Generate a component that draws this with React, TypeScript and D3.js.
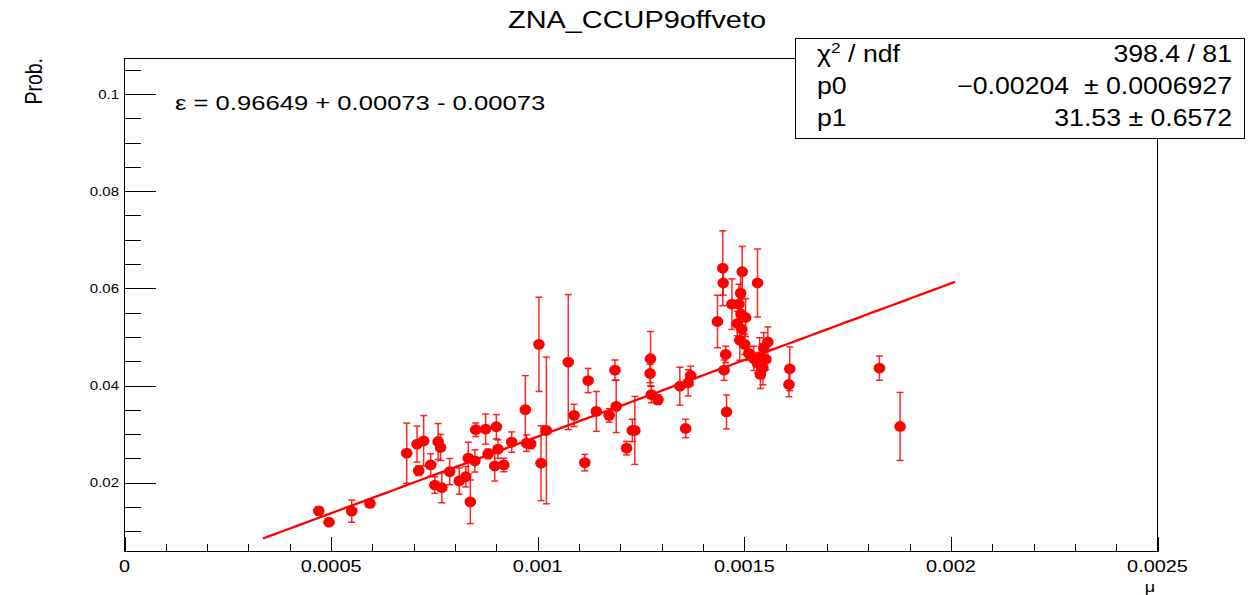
import React from "react";
import * as d3 from "d3";

const title = "ZNA_CCUP9offveto";
const xAxisTitle = "μ";
const yAxisTitle = "Prob.";
const effText = "ε = 0.96649 + 0.00073 - 0.00073";
const statsLabels = ["χ2 / ndf", "p0", "p1"];
const statsValues = ["398.4 / 81", "−0.00204 \u00a0± 0.0006927", "31.53 ± 0.6572"];
const fitP0 = -0.00204;
const fitP1 = 31.53;
const fitRange = [0.000335, 0.00201];

const xTickValues = [0, 0.0005, 0.001, 0.0015, 0.002, 0.0025];
const xTickLabels = ["0", "0.0005", "0.001", "0.0015", "0.002", "0.0025"];
const yTickValues = [0.02, 0.04, 0.06, 0.08, 0.1];
const yTickLabels = ["0.02", "0.04", "0.06", "0.08", "0.1"];

const muValues = [
  0.00047, 0.000495, 0.00055, 0.000594, 0.000683, 0.000708, 0.000712, 0.000724, 0.000741, 0.000751,
  0.000759, 0.000765, 0.000768, 0.000787, 0.00081, 0.000826, 0.000832, 0.000837, 0.000848, 0.00085,
  0.000874, 0.00088, 0.000896, 0.0009, 0.000904, 0.000918, 0.000937, 0.00097, 0.000973, 0.000983,
  0.001003, 0.001008, 0.001021, 0.001074, 0.001088, 0.001114, 0.001122, 0.001142, 0.001173, 0.001187,
  0.00119, 0.001215, 0.001229, 0.001235, 0.001273, 0.001272, 0.001275, 0.001291, 0.001344, 0.001358,
  0.001364, 0.00137, 0.001435, 0.001448, 0.001449, 0.001451, 0.001455, 0.001457, 0.00147, 0.001483,
  0.001487, 0.001491, 0.001492, 0.001489, 0.001495, 0.001503, 0.001511, 0.001532, 0.001531, 0.001537,
  0.001541, 0.001545, 0.001547, 0.001557, 0.001552, 0.00161, 0.001608, 0.001827, 0.001877, 0.001501,
  0.001523, 0.001539, 0.001494,
];
const probValues = [
  0.01421, 0.01187, 0.01415, 0.01574, 0.02608, 0.02794, 0.02248, 0.02862, 0.02366, 0.01952,
  0.02848, 0.02724, 0.01897, 0.02228, 0.02035, 0.02124, 0.02505, 0.01607, 0.02449, 0.0309,
  0.03104, 0.02594, 0.02345, 0.03152, 0.02691, 0.02366, 0.02836, 0.03504, 0.02815, 0.028,
  0.04848, 0.02401, 0.03076, 0.04482, 0.03386, 0.02414, 0.04103, 0.03468, 0.03386, 0.04316,
  0.03572, 0.02711, 0.03076, 0.03076, 0.04552, 0.04248, 0.03814, 0.0371, 0.03986, 0.03117,
  0.04056, 0.04207, 0.05318, 0.06414, 0.0611, 0.04316, 0.04641, 0.03456, 0.05675, 0.05276,
  0.05675, 0.05903, 0.05468, 0.04931, 0.06343, 0.054, 0.04662, 0.0611, 0.0447, 0.04573,
  0.04399, 0.04366, 0.0478, 0.04896, 0.04538, 0.04345, 0.04021, 0.04358, 0.03158, 0.04848,
  0.04558, 0.04228, 0.05158,
];
const probErrors = [
  0.0008, 0.0004, 0.00228, 0.0008, 0.0062, 0.0037, 0.001, 0.0052, 0.0023, 0.0017,
  0.0037, 0.0027, 0.0031, 0.0027, 0.0027, 0.0021, 0.0033, 0.0045, 0.0023, 0.0014,
  0.0031, 0.001, 0.0031, 0.0025, 0.0019, 0.0014, 0.0021, 0.007, 0.0017, 0.001,
  0.0097, 0.0077, 0.0151, 0.0139, 0.0023, 0.0017, 0.0025, 0.0041, 0.0014, 0.0021,
  0.0054, 0.0014, 0.0023, 0.007, 0.0056, 0.0019, 0.0017, 0.001, 0.0039, 0.0019,
  0.0027, 0.0019, 0.0054, 0.0077, 0.0025, 0.0021, 0.0017, 0.0035, 0.0052, 0.0025,
  0.0041, 0.0041, 0.0031, 0.0041, 0.0052, 0.0039, 0.0014, 0.007, 0.0021, 0.0041,
  0.0025, 0.0035, 0.0031, 0.0031, 0.0021, 0.0045, 0.0025, 0.0025, 0.007, 0.0021,
  0.0025, 0.0029, 0.0029,
];

const W = 1259;
const H = 595;
const L = 124.5;
const R = 1157.5;
const T = 58.5;
const B = 551.5;
const FONT = "'Liberation Sans', Arial, Helvetica, sans-serif";
const SX = 1.2;
const RED = "#ff0000";

function STxt(props: {
  x: number;
  y: number;
  size: number;
  anchor?: string;
  sx?: number;
  rotate?: number;
  children: React.ReactNode;
}) {
  const { x, y, size, anchor = "start", sx = SX, rotate = 0, children } = props;
  return (
    <text
      transform={`translate(${x},${y}) scale(${sx},1)${rotate ? ` rotate(${rotate})` : ""}`}
      fontFamily={FONT}
      fontSize={size}
      textAnchor={anchor}
      fill="#000"
    >
      {children}
    </text>
  );
}

export default function App() {
  const x = d3.scaleLinear().domain([0, 0.0025]).range([L, R]);
  const yMin = (579.9 - B) / 4859;
  const yMax = (579.9 - T) / 4859;
  const y = d3.scaleLinear().domain([yMin, yMax]).range([B, T]);

  const xMinor = d3.range(0, 0.002501, 0.0001);
  const yMinor = d3.range(0.01, 0.1051, 0.005);

  const points = muValues.map((m, i) => ({ m, p: probValues[i], e: probErrors[i] }));
  const fitPts = d3.range(0, 101).map((k) => {
    const xv = fitRange[0] + ((fitRange[1] - fitRange[0]) * k) / 100;
    return [xv, fitP0 + fitP1 * xv] as [number, number];
  });
  const line = d3
    .line<[number, number]>()
    .x((d) => x(d[0]))
    .y((d) => y(d[1]));

  const cap = 3.5;

  return (
    <div style={{ position: "fixed", left: 0, top: 0, width: W, height: H, background: "#fff" }}>
      <svg width={W} height={H} style={{ display: "block" }}>
        <rect x={0} y={0} width={W} height={H} fill="#fff" />
        {/* frame */}
        <rect x={L} y={T} width={R - L} height={B - T} fill="none" stroke="#000" strokeWidth={1} shapeRendering="crispEdges" />
        {/* x ticks */}
        {xMinor.map((v, i) => {
          const major = i % 5 === 0;
          const px = Math.round(x(v)) + 0.5;
          return (
            <line key={"xm" + i} x1={px} x2={px} y1={B} y2={B - (major ? 15 : 7.5)} stroke="#000" strokeWidth={1} shapeRendering="crispEdges" />
          );
        })}
        {xTickValues.map((v, i) => (
          <STxt key={"xl" + i} x={x(v)} y={B + 20} size={17} anchor="middle" sx={1.17}>
            {xTickLabels[i]}
          </STxt>
        ))}
        {/* y ticks */}
        {yMinor.map((v, i) => {
          const major = Math.abs(v / 0.02 - Math.round(v / 0.02)) < 1e-6;
          const py = Math.round(y(v)) + 0.5;
          return (
            <line key={"ym" + i} x1={L} x2={L + (major ? 31 : 16)} y1={py} y2={py} stroke="#000" strokeWidth={1} shapeRendering="crispEdges" />
          );
        })}
        {yTickValues.map((v, i) => (
          <STxt key={"yl" + i} x={119} y={y(v) + 4.5} size={12.5} anchor="end">
            {yTickLabels[i]}
          </STxt>
        ))}
        {/* axis titles */}
        <STxt x={1155} y={592} size={15} anchor="end">
          {xAxisTitle}
        </STxt>
        <STxt x={42} y={58} size={19.5} anchor="end" rotate={-90}>
          {yAxisTitle}
        </STxt>
        {/* title */}
        <STxt x={637} y={28} size={24.5} anchor="middle" sx={1.18}>
          {title}
        </STxt>
        {/* error bars */}
        {points.map((d, i) => {
          const px = x(d.m);
          const y1 = y(d.p - d.e);
          const y2 = y(d.p + d.e);
          return (
            <g key={"e" + i} stroke={RED} strokeWidth={1.5} strokeOpacity={0.85}>
              <line x1={px} x2={px} y1={y1} y2={y2} />
              <line x1={px - cap} x2={px + cap} y1={y1} y2={y1} />
              <line x1={px - cap} x2={px + cap} y1={y2} y2={y2} />
            </g>
          );
        })}
        {/* fit */}
        <path d={line(fitPts) || ""} fill="none" stroke={RED} strokeWidth={2.3} />
        {/* markers */}
        {points.map((d, i) => (
          <ellipse key={"p" + i} cx={x(d.m)} cy={y(d.p)} rx={5.8} ry={5.4} fill={RED} />
        ))}
        {/* epsilon text */}
        <STxt x={175} y={110} size={21} sx={1.22}>
          {effText}
        </STxt>
        {/* stats box */}
        <rect x={795.5} y={38.5} width={449} height={100} fill="#fff" stroke="#000" strokeWidth={1} shapeRendering="crispEdges" />
        {statsLabels.map((lab, i) => (
          <STxt key={"sl" + i} x={817} y={62 + i * 32} size={23} sx={1.16}>
            {i === 0 ? (
              <>
                χ<tspan dy={-9} fontSize={15}>2</tspan>
                <tspan dy={9}> / ndf</tspan>
              </>
            ) : (
              lab
            )}
          </STxt>
        ))}
        {statsValues.map((v, i) => (
          <STxt key={"sv" + i} x={1232} y={62 + i * 32} size={23} anchor="end" sx={1.16}>
            {v}
          </STxt>
        ))}
      </svg>
    </div>
  );
}
